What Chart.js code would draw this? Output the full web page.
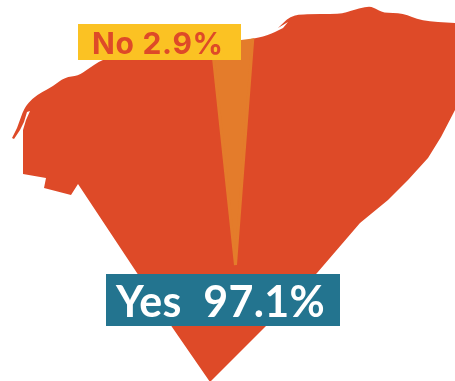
<!DOCTYPE html>
<html>
<head>
<meta charset="utf-8">
<style>
  html, body { margin: 0; padding: 0; background: #fff; overflow: hidden; }
  #wrap { position: relative; width: 455px; height: 381px; }
</style>
<script src="https://cdn.jsdelivr.net/npm/chart.js@4/dist/chart.umd.min.js"></script>
</head>
<body>
<div id="wrap"><canvas id="vote"></canvas></div>
<script>
const categories = ['Yes', 'No'];
const shares = [97.1, 2.9];
const sliceColors = ['#de4a28', '#e47c2b'];

// Map outline the pie gets cut to, a third item marks a rounded corner
const outline = [
    [210, 382], [172, 327], [137, 273], [78, 184], [71, 195], [44, 188], [46, 178],
    [23, 174], [23, 130], [26, 120], [30, 111], [27, 112], [24, 122], [20, 130], [14, 139], [12, 138],
    [17, 128], [21, 117], [24, 108, 1], [33, 98, 1], [42, 92, 1], [52, 87, 1], [65, 77, 1], [78, 76, 1], [88, 69, 1], [100, 61, 1], [108, 58],
    [241, 40], [258, 38, 1], [268, 35, 1], [275, 32], [283, 28], [288, 22], [283, 25], [278, 28], [284, 22, 1], [290, 17, 1], [300, 14, 1], [341, 14, 1],
    [350, 11, 1], [368, 6, 1], [375, 8, 1], [383, 13, 1], [403, 13, 1], [421, 21, 1], [455, 23], [455, 110],
    [441, 137], [428, 158], [408, 180], [388, 200], [360, 223], [317, 273], [265, 327]
];

// Label boxes in the order of categories
const boxes = [
    { x: 106, y: 274, w: 234, h: 52, fill: '#23748f', color: '#fff', font: 'bold 43px Lato', spacing: '0.3px', text: categories[0] + '  ' + shares[0] + '%', tx: 116, ty: 317 },
    { x: 78, y: 24, w: 163, h: 36, fill: '#fbc223', color: '#de4a28', font: 'bold 30px Inter', spacing: '0.7px', text: categories[1] + ' ' + shares[1] + '%', tx: 92, ty: 54 }
];

// Pie centre sits low in the canvas and its radius runs past the edges
const pieFrame = {
    id: 'pieFrame',
    afterLayout(chart) {
        const cx = 235.5, cy = 265, r = 345;
        chart.chartArea = { left: cx - r, right: cx + r, top: cy - r, bottom: cy + r, width: r * 2, height: r * 2 };
    }
};

const mapClip = {
    id: 'mapClip',
    beforeDatasetsDraw(chart) {
        const ctx = chart.ctx;
        ctx.save();
        ctx.beginPath();
        outline.forEach((p, n) => {
            const next = outline[(n + 1) % outline.length];
            if (n === 0) ctx.moveTo(p[0], p[1]);
            else if (p[2]) ctx.quadraticCurveTo(p[0], p[1], (p[0] + next[0]) / 2, (p[1] + next[1]) / 2);
            else ctx.lineTo(p[0], p[1]);
        });
        ctx.closePath();
        ctx.clip();
    },
    afterDatasetsDraw(chart) {
        chart.ctx.restore();
    }
};

const labelBoxes = {
    id: 'labelBoxes',
    afterDraw(chart) {
        const ctx = chart.ctx;
        boxes.forEach(b => {
            ctx.fillStyle = b.fill;
            ctx.fillRect(b.x, b.y, b.w, b.h);
            ctx.fillStyle = b.color;
            ctx.font = b.font;
            ctx.letterSpacing = b.spacing;
            ctx.textBaseline = 'alphabetic';
            ctx.textAlign = 'left';
            ctx.fillText(b.text, b.tx, b.ty);
        });
    }
};

new Chart(document.getElementById('vote'), {
    type: 'pie',
    data: {
        labels: categories,
        datasets: [{
            data: shares,
            backgroundColor: sliceColors,
            borderColor: sliceColors,
            borderWidth: [0, 3]
        }]
    },
    options: {
        responsive: true,
        maintainAspectRatio: false,
        animation: false,
        rotation: 4.37,
        plugins: { legend: { display: false }, tooltip: { enabled: false } }
    },
    plugins: [pieFrame, mapClip, labelBoxes]
});
</script>
</body>
</html>
